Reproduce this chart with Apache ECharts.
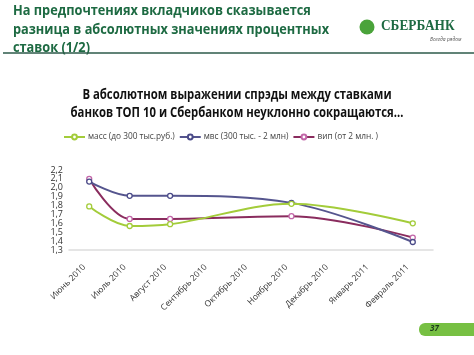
<!DOCTYPE html>
<html><head><meta charset="utf-8">
<script src="https://cdn.jsdelivr.net/npm/echarts@6/dist/echarts.min.js"></script>
<style>html,body{margin:0;padding:0;background:#fff}#c{width:474px;height:355px}</style>
</head><body><div id="c"></div>
<script>
var categories = ['Июнь 2010','Июль 2010','Август 2010','Сентябрь 2010','Октябрь 2010','Ноябрь 2010','Декабрь 2010','Январь 2011','Февраль 2011'];
var massValues = [1.79, 1.57, 1.59, null, null, 1.82, null, null, 1.60];
var mvsValues  = [2.07, 1.91, 1.91, null, null, 1.83, null, null, 1.39];
var vipValues  = [2.10, 1.65, 1.65, null, null, 1.68, null, null, 1.44];
var seriesNames = ['масс (до 300 тыс.руб.)', 'мвс (300 тыс. - 2 млн)', 'вип (от 2 млн. )'];
var yMin = 1.3, yMax = 2.2, yStep = 0.1;

var colors = ['#a3cc3a', '#55558e', '#8a2c5e'];
var markerColors = ['#a3cc3a', '#4a4a88', '#c266a8'];
var chart = echarts.init(document.getElementById('c'));
function mk(name, data, i) {
  return {
    name: name, type: 'line', data: data, connectNulls: true, smooth: 0.35,
    symbol: 'circle', symbolSize: 5, showSymbol: true,
    lineStyle: { color: colors[i], width: 2 },
    itemStyle: { color: '#fff', borderColor: markerColors[i], borderWidth: 1.3 },
    z: 3 - i
  };
}
chart.setOption({
  animation: false,
  textStyle: { fontFamily: 'Open Sans' },
  graphic: [
    { type: 'text', x: 13, y: 2, scaleX: 0.88, style: { text: 'На предпочтениях вкладчиков сказывается\nразница в абсолютных значениях процентных\nставок (1/2)', font: 'bold 14.5px "Open Sans"', fill: '#1d6a42', lineHeight: 18.5 } },
    { type: 'line', shape: { x1: 3, y1: 53, x2: 474, y2: 53 }, style: { stroke: '#2d5a4a', lineWidth: 1.5 } },
    { type: 'circle', shape: { cx: 367, cy: 27, r: 7.5 }, style: { fill: '#4aa33a' } },
    { type: 'text', x: 381, y: 19, scaleX: 0.95, style: { text: 'СБЕРБАНК', font: 'bold 14px "Liberation Serif"', fill: '#1d6a42' } },
    { type: 'text', x: 430, y: 37, style: { text: 'Всегда рядом', font: 'italic 5px "Open Sans"', fill: '#555' } },
    { type: 'text', x: 237, y: 95, scaleX: 0.84, style: { text: 'В абсолютном выражении спрэды между ставками', font: 'bold 13.5px "Open Sans"', fill: '#111', align: 'center', verticalAlign: 'middle' } },
    { type: 'text', x: 237, y: 113, scaleX: 0.84, style: { text: 'банков ТОП 10 и Сбербанком неуклонно сокращаются…', font: 'bold 13.5px "Open Sans"', fill: '#111', align: 'center', verticalAlign: 'middle' } },
    { type: 'rect', shape: { x: 419, y: 323, width: 70, height: 13, r: 6 }, style: { fill: '#77c043' } },
    { type: 'text', x: 430, y: 325, style: { text: '37', font: 'italic bold 8px "Open Sans"', fill: '#1a3a1a' } }
  ],
  legend: {
    top: 128, left: 58, itemGap: 4, itemWidth: 21, itemHeight: 6,
    textStyle: { fontSize: 8.3, color: '#444', fontFamily: 'Open Sans', padding: [0, 0, 0, -2] },
    data: seriesNames
  },
  grid: { left: 69, right: 41, top: 170, bottom: 105 },
  xAxis: {
    type: 'category', data: categories, boundaryGap: true,
    axisLine: { lineStyle: { color: '#dddddd', width: 1.5 } },
    axisTick: { show: false },
    axisLabel: { rotate: 45, fontSize: 8.5, color: '#333', margin: 11, padding: [0, 7, 0, 0], interval: 0 }
  },
  yAxis: {
    type: 'value', min: yMin, max: yMax, interval: yStep,
    axisLine: { show: false }, axisTick: { show: false }, splitLine: { show: false },
    axisLabel: { fontSize: 9, lineHeight: 8, height: 8, color: '#333', margin: 6, showMinLabel: true, showMaxLabel: true, hideOverlap: false,
      formatter: function (v) { return v.toFixed(1).replace('.', ','); } }
  },
  series: [mk(seriesNames[0], massValues, 0), mk(seriesNames[1], mvsValues, 1), mk(seriesNames[2], vipValues, 2)]
});
</script></body></html>
